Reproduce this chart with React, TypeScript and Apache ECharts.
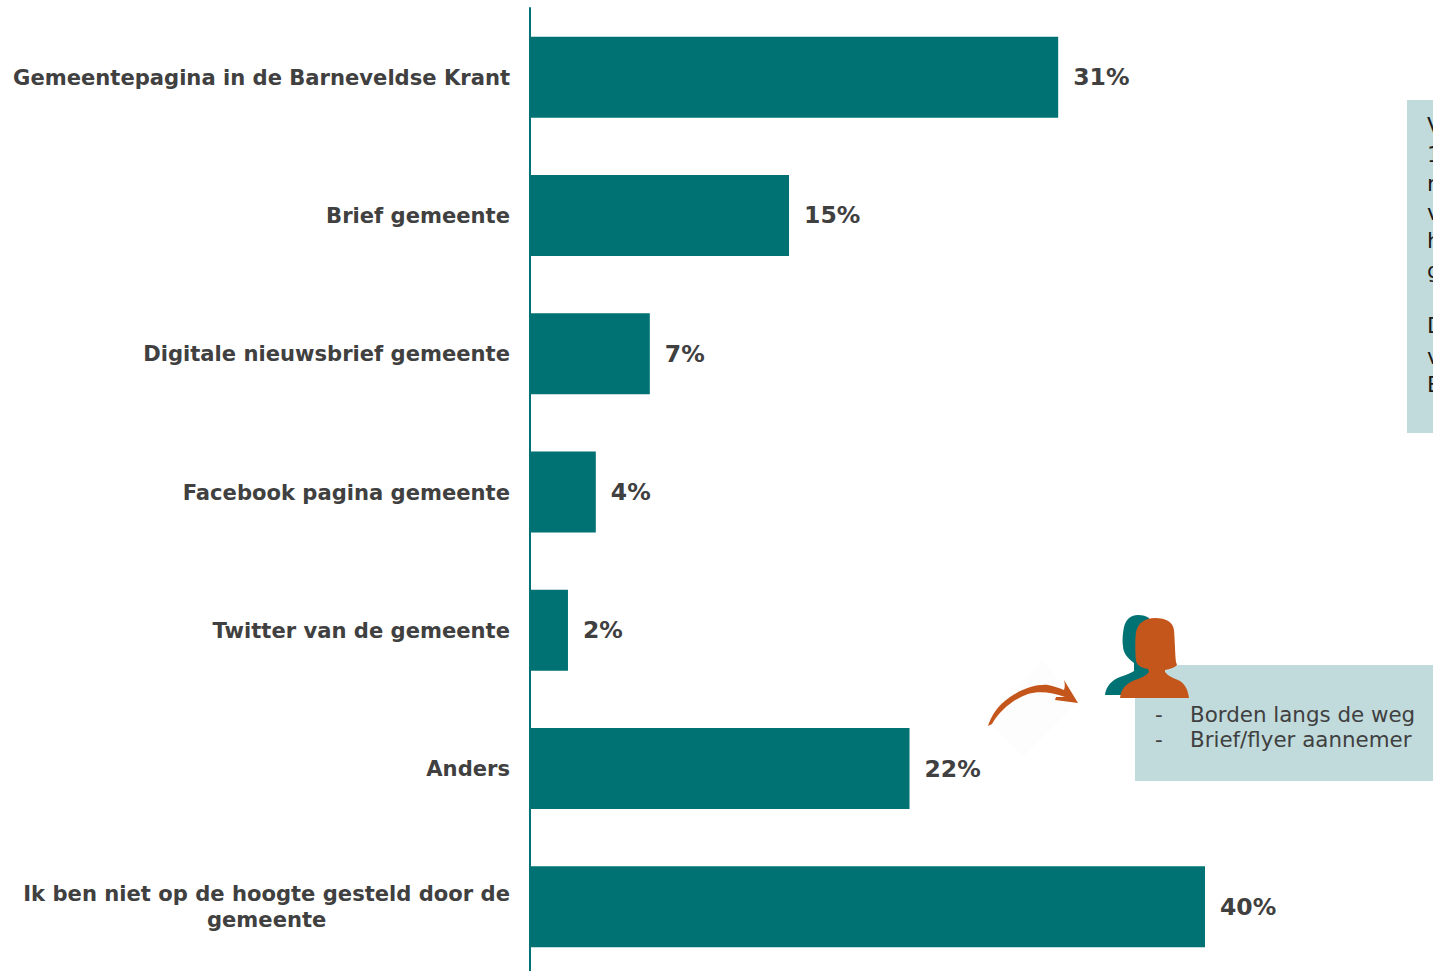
import React, { useEffect, useRef } from "react";
import * as echarts from "echarts";

const categories = [
  "Gemeentepagina in de Barneveldse Krant",
  "Brief gemeente",
  "Digitale nieuwsbrief gemeente",
  "Facebook pagina gemeente",
  "Twitter van de gemeente",
  "Anders",
  "Ik ben niet op de hoogte gesteld door de\ngemeente",
];
const values = [31.3, 15.35, 7.1, 3.9, 2.25, 22.49, 40];
const sideLetters = ["V", "1", "n", "v", "h", "g", "D", "v", "B"];
const noteLines = ["Borden langs de weg", "Brief/flyer aannemer"];

const TEAL = "#017274";
const ORANGE = "#c4561c";
const BOX = "#c1dbdc";
const TEXT = "#404040";
const FONT = "'DejaVu Sans', Verdana, sans-serif";

const PERSON_BACK =
  "M1105 695 C1106 686 1112 680 1120 677 C1126 675 1131 673 1134 671 L1134 663 C1127 658 1123 652 1123 646 C1122 640 1123 632 1124 627 C1126 619 1131 615 1138 615 C1143 615 1146 616 1149 618 L1160 660 L1160 695 Z";
const PERSON_FRONT =
  "M1120 698 C1121 688 1127 683 1135 680 C1141 678 1146 676 1149 672 L1148 669 C1141 668 1137 665 1136 661 C1135 652 1135 640 1136 632 C1138 623 1145 618 1155 618 C1166 618 1173 622 1174 630 C1175 642 1175 654 1176 662 L1177 665 C1174 668 1170 669 1165 670 L1165 672 C1168 676 1173 678 1178 680 C1185 683 1188 690 1189 698 Z";
const ARROW =
  "M988 726 C991 716 998 705 1010 697 C1022 689 1036 684 1048 685 C1054 686 1059 688 1064 690 C1065 687 1065 684 1064 680 L1078 703 L1055 700 L1056 697 L1065 697 C1052 692 1038 691 1028 694 C1014 699 1000 710 992 724 Z";

echarts.graphic.registerShape("personBack", echarts.graphic.extendPath(PERSON_BACK, {}));
echarts.graphic.registerShape("personFront", echarts.graphic.extendPath(PERSON_FRONT, {}));
echarts.graphic.registerShape("curvedArrow", echarts.graphic.extendPath(ARROW, {}));

export default function App() {
  const ref = useRef<HTMLDivElement>(null);
  useEffect(() => {
    const chart = echarts.init(ref.current!, undefined, { renderer: "svg" });
    const sideYs = [125, 154, 183, 212, 240, 270, 325, 356, 384];
    chart.setOption({
      animation: false,
      backgroundColor: "#ffffff",
      grid: { left: 530, top: 8, width: 843.75, height: 968 },
      xAxis: { type: "value", min: 0, max: 50, show: false },
      yAxis: {
        type: "category",
        inverse: true,
        data: categories,
        axisLine: { show: true, lineStyle: { color: TEAL, width: 2 } },
        axisTick: { show: false },
        axisLabel: {
          margin: 20,
          align: "right",
          formatter: (v: string) =>
            v.split("\n").map((l) => `{c|${l}}`).join("\n"),
          rich: {
            c: {
              align: "center",
              fontFamily: FONT,
              fontWeight: "bold",
              fontSize: 21.1,
              lineHeight: 26,
              color: TEXT,
            },
          },
        },
      },
      series: [
        {
          type: "bar",
          data: values,
          barWidth: 81,
          itemStyle: { color: TEAL },
          label: {
            show: true,
            position: "right",
            distance: 15,
            formatter: (p: any) => `${Math.round(p.value)}%`,
            fontFamily: FONT,
            fontWeight: "bold",
            fontSize: 23.5,
            color: TEXT,
          },
        },
      ],
      graphic: [
        { type: "rect", silent: true, shape: { x: 1407, y: 100, width: 26, height: 333 }, style: { fill: BOX } },
        ...sideLetters.map((t, i) => ({
          type: "text",
          silent: true,
          x: 1427,
          y: sideYs[i],
          style: { text: t, fontFamily: FONT, fontSize: 22, fill: "#1a1a1a", verticalAlign: "middle", align: "left" },
        })),
        { type: "rect", silent: true, shape: { x: 1135, y: 665, width: 298, height: 116 }, style: { fill: BOX } },
        ...noteLines.flatMap((t, i) => [
          {
            type: "text",
            silent: true,
            x: 1155,
            y: 714 + i * 25,
            style: { text: "-", fontFamily: FONT, fontSize: 21.4, fill: TEXT, verticalAlign: "middle" },
          },
          {
            type: "text",
            silent: true,
            x: 1190,
            y: 714 + i * 25,
            style: { text: t, fontFamily: FONT, fontSize: 21.4, fill: TEXT, verticalAlign: "middle" },
          },
        ]),
        {
          type: "polygon",
          silent: true,
          shape: { points: [[1042, 660], [1078, 702], [1023, 757], [986, 720]] },
          style: { fill: "#fdfdfd" },
        },
        { type: "curvedArrow", silent: true, x: 0, y: 0, style: { fill: ORANGE } },
        { type: "personBack", silent: true, x: 0, y: 0, style: { fill: TEAL } },
        { type: "personFront", silent: true, x: 0, y: 0, style: { fill: ORANGE } },
      ],
    });
    return () => chart.dispose();
  }, []);
  return (
    <div style={{ position: "absolute", left: 0, top: 0, width: 1433, height: 971, overflow: "hidden" }}>
      <div ref={ref} style={{ width: 1433, height: 980 }} />
    </div>
  );
}
